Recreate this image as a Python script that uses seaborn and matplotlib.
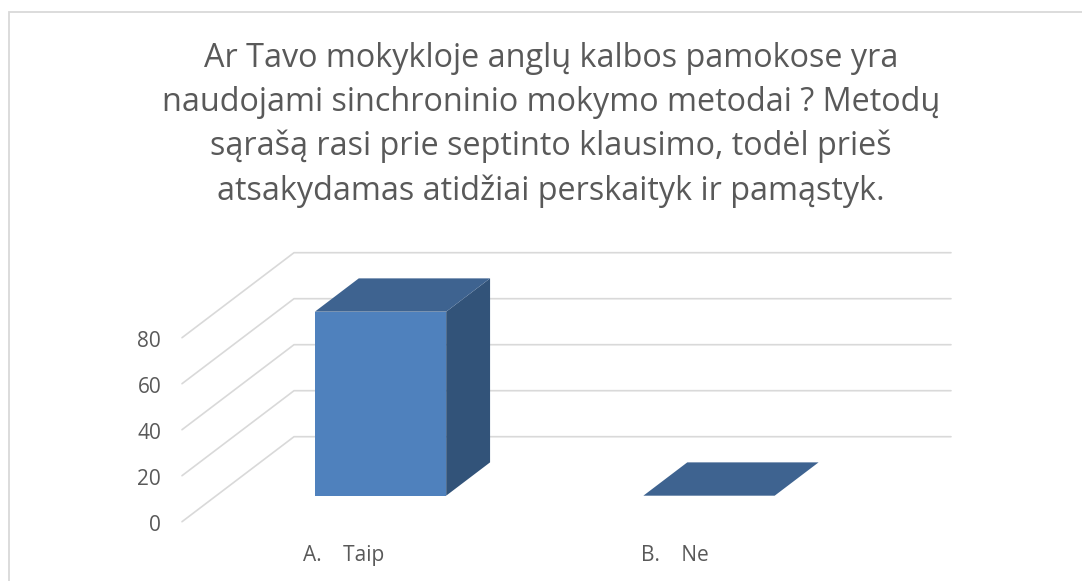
import matplotlib
matplotlib.use("Agg")
import matplotlib.pyplot as plt
from matplotlib.lines import Line2D
from matplotlib.transforms import ScaledTranslation
import seaborn as sns

categories = ["A.    Taip", "B.    Ne"]
values = [80, 0]
y_ticks = [0, 20, 40, 60, 80]
title_lines = [
    "Ar Tavo mokykloje anglų kalbos pamokose yra",
    "naudojami sinchroninio mokymo metodai ? Metodų",
    "sąrašą rasi prie septinto klausimo, todėl prieš",
    "atsakydamas atidžiai perskaityk ir pamąstyk.",
]

W, H = 1082, 581
# pixels of the plot box and scale
LEFT, RIGHT, TOP, BOTTOM = 182, 951, 252.7, 521.7
PX_PER_CAT = 328.5
PX_PER_VAL = 2.3
# full depth of the floor in data units
DEPTH_X = 112 / PX_PER_CAT
DEPTH_Y = 85 / PX_PER_VAL
# where the bars sit in the depth (0 front, 1 back)
BAR_FRONT = 0.306
BAR_BACK = 0.698

FRONT_COL = "#4f81bd"
TOP_COL = "#3e6390"
SIDE_COL = "#325379"
GRID_COL = "#d9d9d9"
TEXT_COL = "#595959"

sns.set_theme(style="white")
plt.rcParams["font.family"] = ["Open Sans", "DejaVu Sans"]


def project(x, v, d):
    return x + d * DEPTH_X, v + d * DEPTH_Y


fig = plt.figure(figsize=(W / 100, H / 100), dpi=100)
ax = fig.add_axes([LEFT / W, (H - BOTTOM) / H, (RIGHT - LEFT) / W, (BOTTOM - TOP) / H])

sns.barplot(x=categories, y=values, width=131.3 / PX_PER_CAT, color=FRONT_COL,
            saturation=1, linewidth=0, ax=ax, zorder=3)

ax.set_xlim(-0.5, -0.5 + (RIGHT - LEFT) / PX_PER_CAT)
ax.set_ylim(0, (BOTTOM - TOP) / PX_PER_VAL)
x_min, x_max = ax.get_xlim()

# gridlines run along the side wall then the back wall
for v in y_ticks:
    bx, by = project(x_min, v, 1)
    ax.plot([x_min, bx, x_max], [v, by, by], color=GRID_COL, lw=1.2, zorder=1,
            clip_on=False, solid_joinstyle="miter")

# move the front face into the depth and add the top and side
for patch in ax.patches[:len(values)]:
    x0 = patch.get_x()
    x1 = x0 + patch.get_width()
    v = patch.get_height()
    patch.set_x(project(x0, 0, BAR_FRONT)[0])
    patch.set_y(project(x0, 0, BAR_FRONT)[1])
    top = [project(x0, v, BAR_FRONT), project(x1, v, BAR_FRONT),
           project(x1, v, BAR_BACK), project(x0, v, BAR_BACK)]
    side = [project(x1, 0, BAR_FRONT), project(x1, 0, BAR_BACK),
            project(x1, v, BAR_BACK), project(x1, v, BAR_FRONT)]
    ax.fill(*zip(*side), color=SIDE_COL, lw=0, zorder=3)
    ax.fill(*zip(*top), color=TOP_COL, lw=0, zorder=3)

ax.set_xlabel("")
ax.set_ylabel("")
ax.set_yticks(y_ticks)
ax.set_xticks(range(len(categories)))
ax.set_xticklabels(categories)
ax.tick_params(axis="y", length=0, pad=15, labelsize=15, labelcolor=TEXT_COL)
ax.tick_params(axis="x", length=0, pad=17, labelsize=15, labelcolor=TEXT_COL)
sns.despine(ax=ax, left=True, bottom=True)

# labels sit a little off the tick positions
y_shift = ScaledTranslation(0, -1.5 / 100, fig.dpi_scale_trans)
for label in ax.get_yticklabels():
    label.set_transform(label.get_transform() + y_shift)
x_shift = ScaledTranslation(-2.5 / 100, 0, fig.dpi_scale_trans)
first_label = ax.get_xticklabels()[0]
first_label.set_transform(first_label.get_transform() + x_shift)

fig.text(551 / W, 1 - 125 / H, "\n".join(title_lines), ha="center", va="center",
         fontsize=23.3, color=TEXT_COL, linespacing=1.44)

# chart frame, only left and top are inside the picture
fig.add_artist(Line2D([8.5 / W, 8.5 / W, 1], [0, 1 - 12 / H, 1 - 12 / H], color=GRID_COL, lw=1.3,
                      transform=fig.transFigure, solid_joinstyle="miter"))

fig.savefig("out.png", dpi=100)
